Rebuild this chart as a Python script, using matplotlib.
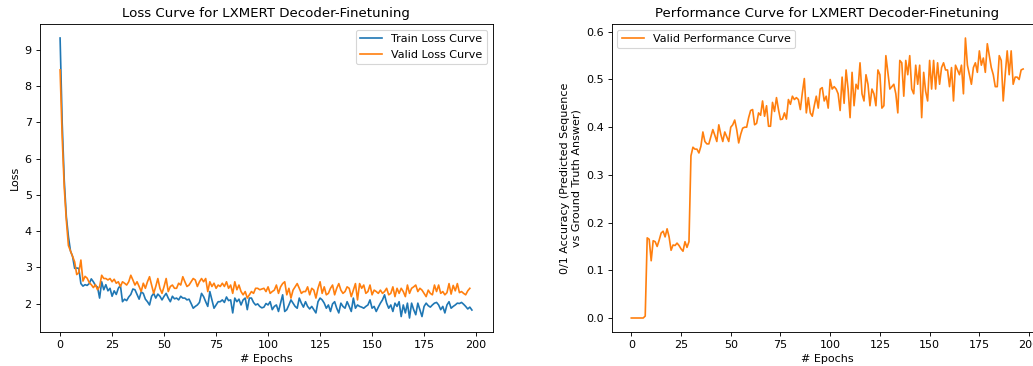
import matplotlib
matplotlib.use("Agg")
import matplotlib.pyplot as plt

# loss values (epochs 0..198)
train_loss = [9.33, 7.0, 5.4, 4.4, 3.85, 3.45, 3.3, 2.97, 2.98, 2.97,
              2.55, 2.48, 2.52, 2.5, 2.55, 2.68, 2.6, 2.5, 2.45, 2.15,
              2.6, 2.38, 2.52, 2.35, 2.42, 2.2, 2.35, 2.25, 2.42, 2.5,
              2.05, 2.12, 2.08, 2.18, 2.25, 2.4, 2.38, 2.25, 2.12, 2.32,
              2.28, 2.12, 2.05, 1.96, 2.2, 2.28, 2.15, 2.26, 2.2, 2.1,
              2.2, 2.28, 2.15, 2.05, 2.2, 2.13, 2.15, 2.1, 2.2, 2.15,
              2.15, 2.1, 2.12, 2.0, 1.87, 1.92, 1.96, 2.03, 2.28, 2.19,
              2.05, 1.92, 2.33, 2.1, 1.87, 1.96, 2.05, 2.05, 2.1, 2.03,
              2.18, 2.08, 2.1, 1.74, 2.15, 2.05, 2.12, 1.96, 2.1, 2.15,
              1.83, 2.15, 2.15, 2.03, 1.96, 1.99, 1.92, 1.88, 1.9,
              2.0, 1.96, 2.05, 1.83, 1.92, 1.96, 1.78, 2.01, 2.24, 1.78,
              1.83, 1.96, 2.1, 2.01, 1.92, 1.87, 2.15, 2.01, 1.9, 2.05,
              1.92, 1.85, 1.92, 1.83, 1.74, 2.05, 2.15, 2.1, 2.01, 1.87,
              1.96, 1.78, 1.99, 2.05, 1.87, 1.74, 2.01, 1.92, 1.87, 2.05,
              1.92, 1.78, 2.15, 1.87, 1.96, 1.92, 1.9, 1.87, 1.92, 1.96,
              2.1, 1.87, 1.92, 1.78, 1.9, 2.01, 2.1, 2.24, 2.01, 1.87,
              1.96, 1.78, 2.01, 1.92, 2.05, 1.64, 1.96, 1.74, 2.01, 1.6,
              2.01, 1.83, 1.69, 2.01, 1.83, 1.64, 1.92, 2.01, 1.94, 1.9,
              1.96, 2.01, 2.03, 1.96, 1.83, 1.92, 1.74, 1.96, 2.05, 1.87,
              1.92, 1.96, 2.01, 2.0, 2.03, 1.98, 1.92, 1.85, 1.9, 1.82]

valid_loss = [8.45, 6.6, 5.2, 4.3, 3.6, 3.45, 3.3, 3.15, 2.8, 2.85,
              3.2, 2.62, 2.75, 2.7, 2.58, 2.52, 2.44, 2.52, 2.38, 2.47,
              2.78, 2.69, 2.69, 2.65, 2.69, 2.6, 2.67, 2.56, 2.6, 2.47,
              2.6, 2.56, 2.51, 2.6, 2.78, 2.65, 2.51, 2.6, 2.47, 2.33,
              2.56, 2.42, 2.6, 2.74, 2.51, 2.28, 2.47, 2.69, 2.42, 2.28,
              2.47, 2.69, 2.33, 2.47, 2.51, 2.42, 2.42, 2.56, 2.51, 2.74,
              2.6, 2.47, 2.51, 2.6, 2.69, 2.65, 2.47, 2.6, 2.69, 2.6,
              2.69, 2.33, 2.6, 2.47, 2.56, 2.42, 2.51, 2.47, 2.56, 2.47,
              2.6, 2.42, 2.51, 2.28, 2.6, 2.38, 2.51, 2.33, 2.24, 2.33,
              2.15, 2.24, 2.33, 2.28, 2.42, 2.42, 2.38, 2.4, 2.42,
              2.33, 2.46, 2.28, 2.33, 2.37, 2.51, 2.28, 2.46, 2.55, 2.6,
              2.24, 2.42, 2.15, 2.37, 2.46, 2.55, 2.42, 2.28, 2.33, 2.33,
              2.46, 2.24, 2.42, 2.37, 2.15, 2.42, 2.6, 2.28, 2.46, 2.24,
              2.28, 2.42, 2.51, 2.24, 2.42, 2.55, 2.37, 2.28, 2.33, 2.46,
              2.42, 2.19, 2.37, 2.55, 2.1, 2.55, 2.42, 2.51, 2.28, 2.33,
              2.51, 2.24, 2.37, 2.33, 2.28, 2.37, 2.28, 2.33, 2.42, 2.24,
              2.28, 2.46, 2.19, 2.42, 2.28, 2.42, 2.33, 2.19, 2.51, 2.28,
              2.42, 2.46, 2.51, 2.33, 2.42, 2.37, 2.28, 2.19, 2.37, 2.28,
              2.24, 2.51, 2.33, 2.51, 2.28, 2.33, 2.24, 2.3, 2.55, 2.26,
              2.5, 2.35, 2.55, 2.3, 2.33, 2.28, 2.24, 2.35, 2.42]

# 0/1 accuracy on the validation set
valid_perf = [0.0, 0.0, 0.0, 0.0, 0.0, 0.0, 0.0, 0.004, 0.168, 0.165,
              0.12, 0.162, 0.16, 0.15, 0.163, 0.178, 0.182, 0.17, 0.187, 0.17,
              0.142, 0.153, 0.152, 0.157, 0.152, 0.145, 0.14, 0.16, 0.148, 0.16,
              0.34, 0.358, 0.354, 0.354, 0.346, 0.36, 0.39, 0.37, 0.365, 0.365,
              0.38, 0.395, 0.383, 0.37, 0.405, 0.385, 0.37, 0.39, 0.38, 0.37,
              0.4, 0.405, 0.415, 0.395, 0.367, 0.385, 0.398, 0.4, 0.4, 0.42,
              0.435, 0.437, 0.405, 0.408, 0.43, 0.425, 0.455, 0.423, 0.445, 0.402,
              0.402, 0.452, 0.433, 0.462, 0.437, 0.416, 0.417, 0.43, 0.417, 0.458,
              0.448, 0.465, 0.458, 0.462, 0.458, 0.437, 0.472, 0.502, 0.43, 0.462,
              0.43, 0.423, 0.445, 0.465, 0.44, 0.48, 0.483,
              0.455, 0.465, 0.44, 0.50, 0.48, 0.485, 0.48, 0.47, 0.435, 0.505,
              0.45, 0.52, 0.48, 0.42, 0.515, 0.445, 0.49, 0.48, 0.535, 0.47,
              0.455, 0.51, 0.49, 0.445, 0.48, 0.47, 0.445, 0.52, 0.51, 0.44,
              0.445, 0.55, 0.515, 0.48, 0.485, 0.49, 0.47, 0.43, 0.54, 0.535,
              0.465, 0.54, 0.51, 0.55, 0.48, 0.47, 0.53, 0.49, 0.53, 0.42,
              0.515, 0.475, 0.455, 0.54, 0.48, 0.54, 0.48, 0.535, 0.49, 0.525,
              0.535, 0.52, 0.52, 0.485, 0.525, 0.455, 0.53, 0.52, 0.51, 0.53,
              0.47, 0.587, 0.53, 0.51, 0.49, 0.525, 0.535, 0.515, 0.56, 0.53,
              0.545, 0.515, 0.575, 0.55, 0.525, 0.51, 0.485, 0.485, 0.55, 0.54,
              0.455, 0.51, 0.56, 0.51, 0.56, 0.49, 0.505, 0.505, 0.50, 0.52,
              0.522]

# original was drawn larger and shrunk, so use a lower dpi to get the same text size
DPI = 80
W, H = 1033.0, 366.0
fig = plt.figure(figsize=(W / DPI, H / DPI), dpi=DPI)

# left panel
ax1 = fig.add_axes([39.5 / W, 1 - 332 / H, 453 / W, 308 / H])
ax1.plot(range(len(train_loss)), train_loss, label="Train Loss Curve")
ax1.plot(range(len(valid_loss)), valid_loss, label="Valid Loss Curve")
ax1.set_title("Loss Curve for LXMERT Decoder-Finetuning")
ax1.set_xlabel("# Epochs")
ax1.set_ylabel("Loss")
ax1.set_xticks([0, 25, 50, 75, 100, 125, 150, 175, 200])
ax1.legend(loc="upper right")

# right panel, runs past the right edge like the original crop
ax2 = fig.add_axes([611.7 / W, 1 - 332 / H, 431 / W, 308 / H])
ax2.plot(range(len(valid_perf)), valid_perf, color="#ff7f0e", label="Valid Performance Curve")
ax2.set_title("Performance Curve for LXMERT Decoder-Finetuning")
ax2.set_xlabel("# Epochs")
ax2.set_ylabel("0/1 Accuracy (Predicted Sequence\nvs Ground Truth Answer)", ha="center")
ax2.set_xticks([0, 25, 50, 75, 100, 125, 150, 175, 200])
ax2.legend(loc="upper left")

fig.savefig("out.png", dpi=DPI)
